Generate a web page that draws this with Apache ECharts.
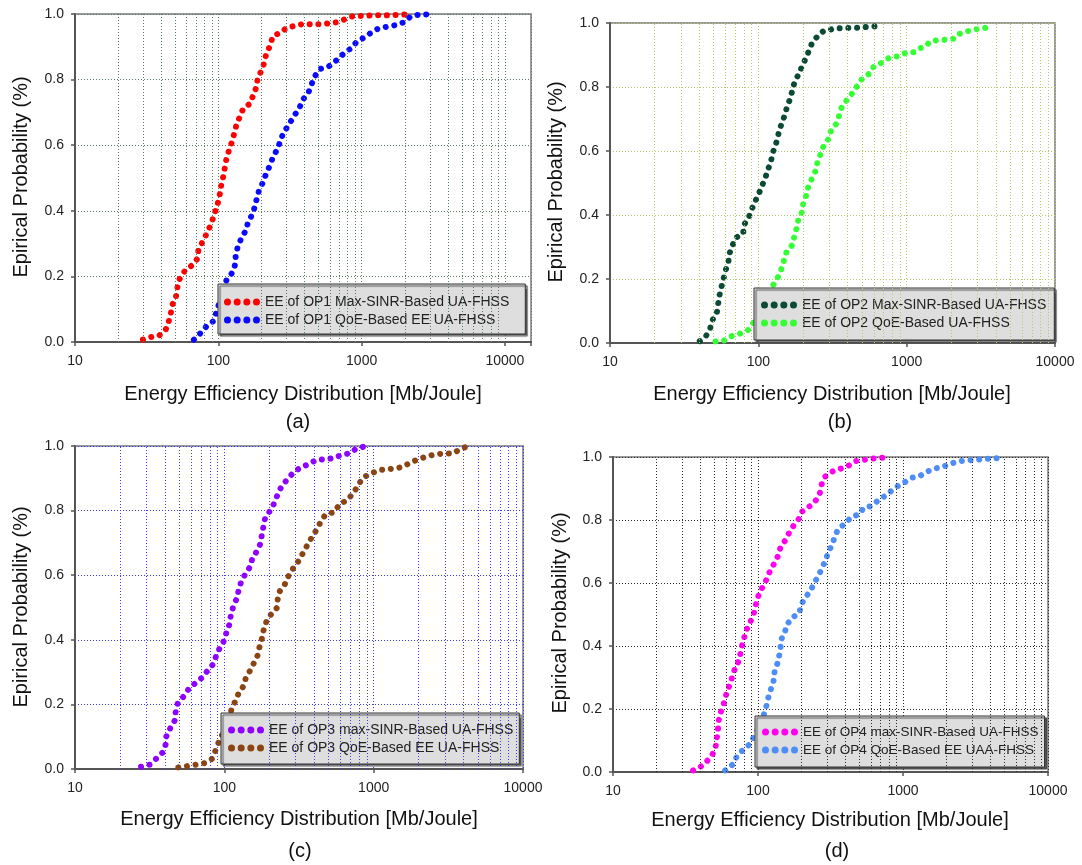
<!DOCTYPE html>
<html><head><meta charset="utf-8">
<script src="https://cdn.jsdelivr.net/npm/echarts@6/dist/echarts.min.js"></script>
<style>html,body{margin:0;padding:0;background:#fff}#c{width:1082px;height:865px}</style>
</head><body><div id="c"></div>
<script>
// ---------- data ----------
const minorTicks = [20,30,40,50,60,70,80,90,200,300,400,500,600,700,800,900,2000,3000,4000,5000,6000,7000,8000,9000];
const yTickStep = 0.2;

const op1MaxSinr = [[29.8,0.007],[33.8,0.015],[38.8,0.02],[43,0.038],[45.1,0.063],[46.7,0.09],[48,0.115],[50.7,0.14],[51.8,0.166],[53.5,0.191],[58.2,0.216],[64.7,0.232],[71.5,0.254],[72.6,0.28],[77.6,0.305],[82.6,0.329],[87.8,0.354],[92.2,0.379],[96.4,0.405],[100.2,0.43],[103,0.456],[105.2,0.483],[108.9,0.509],[111.2,0.534],[114.3,0.562],[118.9,0.585],[124.4,0.61],[129.2,0.636],[133.6,0.661],[141.3,0.687],[149.3,0.712],[166.8,0.727],[175.4,0.753],[185.3,0.78],[188.4,0.807],[201.4,0.829],[210.4,0.855],[216.3,0.88],[231.2,0.905],[238.9,0.931],[272.9,0.944],[298.4,0.957],[340.6,0.964],[387,0.969],[444.5,0.969],[510.5,0.969],[586,0.971],[673,0.975],[744,0.982],[850,0.992],[976,0.994],[1121,0.995],[1288,0.996],[1479,0.996],[1708,0.997],[1950,0.998],[2240,0.999]];
const op1Qoe = [[67.6,0.007],[73.4,0.022],[82,0.046],[92.7,0.064],[96.9,0.09],[105,0.14],[114.3,0.19],[126.5,0.214],[131.5,0.239],[132.2,0.264],[136.6,0.29],[144.3,0.315],[156,0.341],[161.4,0.366],[173.4,0.39],[180.3,0.415],[186.2,0.44],[193.6,0.466],[207,0.49],[216.3,0.516],[231.2,0.541],[241.7,0.567],[262.5,0.592],[270,0.615],[288.4,0.641],[313.4,0.666],[338.6,0.69],[368,0.714],[391,0.74],[425,0.76],[446.8,0.785],[469.6,0.809],[510.5,0.832],[593,0.841],[673,0.86],[744,0.878],[840,0.895],[928,0.916],[1050,0.929],[1172,0.944],[1309,0.956],[1503,0.961],[1726,0.966],[1982,0.975],[2191,0.992],[2516,0.998],[2924,0.999]];

const op2MaxSinr = [[40.3,0.006],[44.4,0.022],[47.3,0.045],[49.3,0.073],[52.6,0.097],[53.7,0.125],[54.9,0.152],[56.6,0.178],[58.5,0.204],[60.4,0.229],[62.8,0.253],[63.8,0.279],[67,0.305],[70.3,0.329],[79.1,0.342],[79.8,0.368],[86.1,0.392],[89.8,0.415],[94.8,0.441],[100.5,0.465],[105,0.488],[111.4,0.514],[114.9,0.538],[121.3,0.563],[124,0.59],[130,0.615],[135,0.641],[138.6,0.667],[145.4,0.691],[151.8,0.717],[156.7,0.741],[165.4,0.767],[169.8,0.793],[176.5,0.818],[188,0.842],[198.5,0.868],[210,0.892],[221,0.917],[231.8,0.941],[254,0.961],[275,0.975],[300,0.978],[318,0.982],[361,0.984],[420,0.985],[480,0.985],[550,0.988],[628,0.99],[663,0.998]];
const op2Qoe = [[51.5,0.005],[58.9,0.008],[65.5,0.021],[74.9,0.029],[85.1,0.04],[91.3,0.06],[105,0.1],[118,0.145],[126.5,0.183],[136.3,0.208],[143.9,0.234],[149.3,0.26],[155.2,0.286],[170.9,0.308],[174.6,0.333],[181.2,0.359],[186.2,0.386],[196.4,0.408],[200.6,0.435],[209.2,0.459],[216.1,0.485],[228,0.511],[243.2,0.538],[249.9,0.563],[262.4,0.59],[273.7,0.613],[298,0.639],[309.4,0.665],[335.5,0.685],[350.2,0.71],[363.5,0.735],[393.6,0.758],[431.3,0.781],[467.5,0.805],[501.5,0.826],[561.3,0.842],[598.5,0.863],[680.5,0.876],[765.9,0.892],[875.5,0.896],[989,0.907],[1119,0.909],[1213,0.92],[1365,0.93],[1424,0.941],[1603,0.946],[1850,0.948],[2094,0.951],[2234,0.965],[2553,0.974],[2886,0.98],[3355,0.984],[3811,0.993]];

const op3MaxSinr = [[27.7,0.007],[32,0.014],[35.2,0.033],[38.8,0.052],[40.4,0.075],[40.9,0.101],[43.4,0.126],[46.5,0.15],[47.2,0.176],[48.7,0.202],[53.4,0.225],[57.8,0.248],[63.9,0.266],[71.4,0.284],[77.4,0.305],[84.7,0.326],[88.4,0.352],[93.2,0.375],[100.4,0.4],[103.6,0.426],[108.7,0.45],[110.4,0.476],[114.6,0.502],[120.8,0.527],[124.7,0.553],[129.4,0.579],[138,0.603],[149.5,0.628],[154.4,0.654],[165.5,0.675],[175.5,0.7],[178.3,0.726],[183,0.752],[187.8,0.778],[203.5,0.801],[216.9,0.825],[227.5,0.85],[241,0.874],[261,0.894],[290.4,0.918],[323,0.933],[368.8,0.944],[412,0.957],[470.8,0.959],[538,0.962],[605,0.972],[684,0.977],[760.5,0.991],[855,0.998]];
const op3Qoe = [[49.2,0.005],[56.2,0.009],[64.2,0.013],[73.3,0.018],[82.4,0.031],[86.9,0.055],[91.6,0.083],[100,0.12],[111.6,0.183],[118.3,0.21],[124.8,0.235],[133.7,0.255],[138.7,0.279],[147.9,0.303],[157.7,0.328],[167.2,0.352],[171.8,0.377],[178.2,0.403],[183,0.429],[190.8,0.455],[205.6,0.479],[223.9,0.498],[227.5,0.524],[234.9,0.55],[254.3,0.572],[268.3,0.597],[290.4,0.623],[316.4,0.646],[337.3,0.67],[361.5,0.695],[389.2,0.721],[417,0.742],[444.5,0.768],[476.3,0.788],[549.7,0.796],[589,0.82],[665.4,0.832],[732.6,0.855],[789,0.879],[845.5,0.902],[966,0.915],[1086,0.926],[1240,0.928],[1415,0.931],[1592,0.936],[1779,0.951],[2022,0.959],[2285,0.969],[2609,0.974],[2977,0.977],[3403,0.977],[3825,0.991],[4322,1.0]];

const op4MaxSinr = [[35.7,0.005],[40,0.016],[43.4,0.029],[48.2,0.053],[50.9,0.077],[51.8,0.101],[52.9,0.13],[53.2,0.154],[54.4,0.181],[56.9,0.204],[59.4,0.231],[61.1,0.257],[64.6,0.282],[67,0.309],[70,0.333],[74.3,0.356],[76,0.383],[78.5,0.41],[81.2,0.434],[84.8,0.46],[90.2,0.484],[94.7,0.511],[97.3,0.537],[101.1,0.562],[107.4,0.587],[114.1,0.61],[120.5,0.636],[128.7,0.66],[137.5,0.686],[142.9,0.713],[153.4,0.734],[163.8,0.759],[175.8,0.782],[190.9,0.803],[201.7,0.827],[227.6,0.844],[254,0.865],[268.4,0.888],[275.6,0.915],[291,0.938],[328.7,0.955],[372.6,0.963],[422.5,0.973],[471.7,0.987],[541.1,0.991],[617,0.995],[699.5,0.997],[803.5,1.0]];
const op4Qoe = [[59.4,0.005],[67,0.024],[71.2,0.048],[78.2,0.069],[88.6,0.09],[93.6,0.112],[104,0.15],[110.4,0.186],[114.8,0.213],[117.9,0.237],[123,0.264],[127.8,0.287],[130,0.317],[135.8,0.343],[139.6,0.367],[142.9,0.394],[144.5,0.42],[153.4,0.445],[158.5,0.468],[171,0.489],[193,0.505],[198.5,0.532],[213.3,0.555],[231.4,0.577],[244.4,0.601],[261,0.622],[275.6,0.647],[292.9,0.672],[304.2,0.697],[325,0.721],[338,0.747],[356.8,0.771],[400,0.789],[439.5,0.809],[503.6,0.819],[532,0.838],[604,0.844],[674.5,0.862],[760,0.878],[849,0.896],[936,0.91],[1028,0.92],[1147,0.934],[1301,0.939],[1444,0.952],[1637,0.963],[1857,0.968],[2131,0.979],[2405,0.986],[2727,0.989],[3113,0.991],[3530,0.993],[4048,0.995],[4641,0.997]];

const seriesNames = [
  ['EE of OP1 Max-SINR-Based UA-FHSS', 'EE of OP1 QoE-Based EE UA-FHSS'],
  ['EE of OP2 Max-SINR-Based UA-FHSS', 'EE of OP2 QoE-Based UA-FHSS'],
  ['EE of OP3 max-SINR-Based UA-FHSS', 'EE of OP3 QoE-Based EE UA-FHSS'],
  ['EE of OP4 max-SINR-Based UA-FHSS', 'EE of OP4 QoE-Based EE UAA-FHSS']
];
const seriesData = [[op1MaxSinr, op1Qoe], [op2MaxSinr, op2Qoe], [op3MaxSinr, op3Qoe], [op4MaxSinr, op4Qoe]];
const panelLabels = ['(a)', '(b)', '(c)', '(d)'];
const xTitle = 'Energy Efficiency Distribution [Mb/Joule]';
const yTitle = 'Epirical Probability (%)';

// ---------- layout / style ----------
const FONT = '"Liberation Sans", Arial, Helvetica, sans-serif';
const panels = [
  { grid:{left:75, top:14, width:456, height:328}, xMax:15200, gridColor:'#5a7862', colors:['#ff0000','#0a0aff'],
    legend:{left:218, top:284, padding:[10,16,6,6], fontSize:14}, xT:[303,394], yT:[21,177], sub:[298,422] },
  { grid:{left:610, top:23, width:445, height:320}, xMax:10000, gridColor:'#b4c86c', colors:['#0b4a34','#33ff33'],
    legend:{left:754, top:288, padding:[9,8,9,7], fontSize:14}, xT:[832,394], yT:[556,182], sub:[840,422] },
  { grid:{left:75, top:446, width:448, height:323}, xMax:10000, gridColor:'#3a3af5', colors:['#8f00ff','#8b4513'],
    legend:{left:221, top:713, padding:[9,6,8,7], fontSize:14}, xT:[299,819], yT:[21,607], sub:[300,851] },
  { grid:{left:613, top:457, width:435, height:315}, xMax:10000, gridColor:'#2a2a2a', colors:['#ff00ee','#4d8df5'],
    legend:{left:755, top:716, padding:[8,6,9,7], fontSize:13.5}, xT:[830,820], yT:[560,613], sub:[837,851] }
];

const dotsIcon = 'path://M0,3.5A3.5,3.5,0,1,0,7,3.5A3.5,3.5,0,1,0,0,3.5Z' +
  'M9.67,3.5A3.5,3.5,0,1,0,16.67,3.5A3.5,3.5,0,1,0,9.67,3.5Z' +
  'M19.33,3.5A3.5,3.5,0,1,0,26.33,3.5A3.5,3.5,0,1,0,19.33,3.5Z' +
  'M29,3.5A3.5,3.5,0,1,0,36,3.5A3.5,3.5,0,1,0,29,3.5Z';

function powLabel(v) {
  const l = Math.log10(v);
  return Math.abs(l - Math.round(l)) < 1e-6 ? String(Math.round(v)) : '';
}

const option = { animation:false, backgroundColor:'#fff', grid:[], xAxis:[], yAxis:[], series:[], legend:[], graphic:{elements:[]} };

panels.forEach((p, i) => {
  option.grid.push(Object.assign({ show:true, borderColor:'#7a7a7a', borderWidth:1.5, backgroundColor:'#fff' }, p.grid));
  const gridLine = { show:true, lineStyle:{ color:p.gridColor, type:[1,2], width:1 } };
  option.xAxis.push({
    type:'log', logBase:10, gridIndex:i, min:10, max:p.xMax,
    axisLine:{ show:true, onZero:false, lineStyle:{ color:'#555', width:2 } },
    axisTick:{ show:true, inside:false, length:4, lineStyle:{ color:'#555', width:1.5 } },
    axisLabel:{ margin:12, color:'#222', fontSize:14, fontFamily:FONT, formatter:powLabel, showMaxLabel:true },
    splitLine:gridLine
  });
  option.yAxis.push({
    type:'value', gridIndex:i, min:0, max:1, interval:yTickStep,
    axisLine:{ show:true, lineStyle:{ color:'#555', width:2 } },
    axisTick:{ show:true, inside:false, length:4, lineStyle:{ color:'#555', width:1.5 } },
    axisLabel:{ margin:11, color:'#222', fontSize:14, fontFamily:FONT, formatter:v => v.toFixed(1) },
    splitLine:gridLine
  });
  // minor log grid lines
  option.series.push({
    type:'line', name:'minor-grid-' + i, xAxisIndex:i, yAxisIndex:i, data:[], z:1, silent:true,
    markLine:{ silent:true, symbol:['none','none'], label:{show:false}, animation:false,
      lineStyle:{ color:p.gridColor, type:[1,2], width:1 }, emphasis:{disabled:true},
      data: minorTicks.filter(v => v < p.xMax).map(v => ({ xAxis:v })) }
  });
  seriesNames[i].forEach((name, k) => {
    option.series.push({
      type:'line', name, xAxisIndex:i, yAxisIndex:i, data:seriesData[i][k],
      showSymbol:false, symbol:'none', z:3, silent:true,
      itemStyle:{ color:p.colors[k] },
      lineStyle:{ color:p.colors[k], width:6, type:[0.01, 8.7], cap:'round' },
      emphasis:{ disabled:true }
    });
  });
  option.legend.push({
    data:seriesNames[i], orient:'vertical', left:p.legend.left, top:p.legend.top,
    padding:p.legend.padding, itemWidth:36, itemHeight:7, itemGap:2, icon:dotsIcon,
    selectedMode:false, backgroundColor:'#dedede', borderColor:'#333', borderWidth:1,
    shadowColor:'rgba(70,70,70,0.9)', shadowOffsetX:2, shadowOffsetY:2, shadowBlur:1,
    itemStyle:{ borderWidth:0 },
    textStyle:{ fontSize:p.legend.fontSize, color:'#222', fontFamily:FONT, lineHeight:16 }
  });
  const els = option.graphic.elements;
  els.push({ type:'text', x:p.xT[0], y:p.xT[1], style:{ text:xTitle, fontSize:20, fontFamily:FONT, fill:'#111',
    align:'center', verticalAlign:'middle', textAlign:'center', textVerticalAlign:'middle' } });
  els.push({ type:'text', x:p.yT[0], y:p.yT[1], rotation:Math.PI/2, style:{ text:yTitle, fontSize:20, fontFamily:FONT, fill:'#111',
    align:'center', verticalAlign:'middle', textAlign:'center', textVerticalAlign:'middle' } });
  els.push({ type:'text', x:p.sub[0], y:p.sub[1], style:{ text:panelLabels[i], fontSize:20, fontFamily:FONT, fill:'#111',
    align:'center', verticalAlign:'middle', textAlign:'center', textVerticalAlign:'middle' } });
});

const chart = echarts.init(document.getElementById('c'), null, { renderer:'canvas' });
chart.setOption(option);
</script></body></html>
